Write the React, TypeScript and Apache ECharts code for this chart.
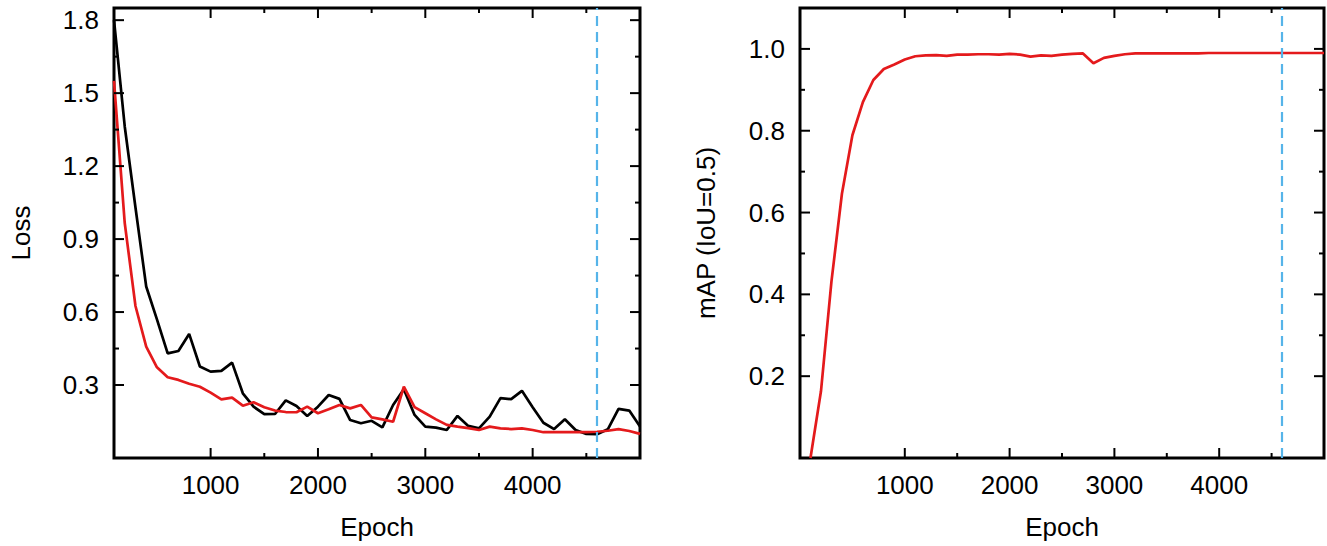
import React, { useEffect, useRef } from "react";
import * as echarts from "echarts";

const epochs = [
  100, 200, 300, 400, 500, 600, 700, 800, 900, 1000,
  1100, 1200, 1300, 1400, 1500, 1600, 1700, 1800, 1900, 2000,
  2100, 2200, 2300, 2400, 2500, 2600, 2700, 2800, 2900, 3000,
  3100, 3200, 3300, 3400, 3500, 3600, 3700, 3800, 3900, 4000,
  4100, 4200, 4300, 4400, 4500, 4600, 4700, 4800, 4900, 5000,
];

const trainLoss = [
  1.8, 1.363, 1.03, 0.705, 0.57, 0.43, 0.44, 0.51, 0.376, 0.355,
  0.358, 0.392, 0.266, 0.211, 0.18, 0.181, 0.237, 0.214, 0.173, 0.211,
  0.259, 0.243, 0.156, 0.143, 0.153, 0.126, 0.218, 0.283, 0.177, 0.129,
  0.125, 0.115, 0.173, 0.132, 0.122, 0.17, 0.246, 0.242, 0.276, 0.209,
  0.145, 0.119, 0.159, 0.115, 0.099, 0.098, 0.118, 0.202, 0.195, 0.129,
];

const valLoss = [
  1.55, 0.966, 0.625, 0.458, 0.373, 0.332, 0.321, 0.305, 0.293, 0.269,
  0.241, 0.248, 0.215, 0.229, 0.209, 0.195, 0.189, 0.188, 0.211, 0.184,
  0.2, 0.218, 0.204, 0.218, 0.167, 0.159, 0.149, 0.293, 0.209, 0.184,
  0.159, 0.136, 0.129, 0.123, 0.115, 0.129, 0.122, 0.119, 0.122, 0.115,
  0.106, 0.106, 0.106, 0.106, 0.106, 0.108, 0.112, 0.119, 0.111, 0.099,
];

const mapValues = [
  0.0, 0.163, 0.431, 0.646, 0.789, 0.87, 0.924, 0.951, 0.962, 0.974,
  0.982, 0.984, 0.985, 0.983, 0.986, 0.986, 0.987, 0.987, 0.986, 0.988,
  0.986, 0.981, 0.984, 0.983, 0.986, 0.988, 0.989, 0.965, 0.978, 0.983,
  0.987, 0.989, 0.989, 0.989, 0.989, 0.989, 0.989, 0.989, 0.99, 0.99,
  0.99, 0.99, 0.99, 0.99, 0.99, 0.99, 0.99, 0.99, 0.99, 0.99,
];

const epochTicks = [1000, 2000, 3000, 4000];
const epochMinorTicks = [1500, 2500, 3500, 4500];
const lossTicks = [0.3, 0.6, 0.9, 1.2, 1.5, 1.8];
const lossMinorTicks = [0.45, 0.75, 1.05, 1.35, 1.65];
const mapTicks = [0.2, 0.4, 0.6, 0.8, 1.0];
const mapMinorTicks = [0.3, 0.5, 0.7, 0.9];
const bestEpoch = 4600;

const FONT = "Liberation Sans, Arial, Helvetica, sans-serif";
const FS = 26;
const RED = "#E41A1C";
const BLUE = "#56B4E9";

function tickData(xMajor: number[], xMinor: number[], yMajor: number[], yMinor: number[]) {
  const d: number[][] = [];
  xMajor.forEach((v) => d.push([0, v, 1]));
  xMinor.forEach((v) => d.push([0, v, 0]));
  yMajor.forEach((v) => d.push([1, v, 1]));
  yMinor.forEach((v) => d.push([1, v, 0]));
  return d;
}

function tickSeries(idx: number, xr: number[], yr: number[], data: number[][]) {
  return {
    type: "custom",
    xAxisIndex: idx,
    yAxisIndex: idx,
    silent: true,
    clip: false,
    z: 10,
    data,
    renderItem: (_p: any, api: any) => {
      const kind = api.value(0);
      const v = api.value(1);
      const len = api.value(2) ? 10 : 5;
      const st = { stroke: "#000", lineWidth: 2 };
      if (kind === 0) {
        const b = api.coord([v, yr[0]]);
        const t = api.coord([v, yr[1]]);
        return {
          type: "group",
          children: [
            { type: "line", shape: { x1: b[0], y1: b[1], x2: b[0], y2: b[1] - len }, style: st },
            { type: "line", shape: { x1: t[0], y1: t[1], x2: t[0], y2: t[1] + len }, style: st },
          ],
        };
      }
      const l = api.coord([xr[0], v]);
      const r = api.coord([xr[1], v]);
      return {
        type: "group",
        children: [
          { type: "line", shape: { x1: l[0], y1: l[1], x2: l[0] + len, y2: l[1] }, style: st },
          { type: "line", shape: { x1: r[0], y1: r[1], x2: r[0] - len, y2: r[1] }, style: st },
        ],
      };
    },
  };
}

function xAxisOpt(idx: number, min: number, max: number) {
  return {
    type: "value",
    gridIndex: idx,
    min,
    max,
    name: "Epoch",
    nameLocation: "middle",
    nameGap: 56,
    nameTextStyle: { fontFamily: FONT, fontSize: FS, color: "#000" },
    axisLine: { show: false, onZero: false },
    axisTick: { show: false },
    splitLine: { show: false },
    axisLabel: {
      customValues: epochTicks,
      formatter: (v: number) => String(v),
      fontFamily: FONT,
      fontSize: FS,
      color: "#000",
      margin: 14,
    },
  };
}

function yAxisOpt(idx: number, min: number, max: number, name: string, ticks: number[], gap: number) {
  return {
    type: "value",
    gridIndex: idx,
    min,
    max,
    name,
    nameLocation: "middle",
    nameGap: gap,
    nameTextStyle: { fontFamily: FONT, fontSize: FS, color: "#000" },
    axisLine: { show: false, onZero: false },
    axisTick: { show: false },
    splitLine: { show: false },
    axisLabel: {
      customValues: ticks,
      formatter: (v: number) => v.toFixed(1),
      fontFamily: FONT,
      fontSize: FS,
      color: "#000",
      margin: 15,
    },
  };
}

const dashed = {
  silent: true,
  symbol: ["none", "none"],
  label: { show: false },
  emphasis: { disabled: true },
  lineStyle: { color: BLUE, type: [10, 6], width: 2.2 },
  data: [{ xAxis: bestEpoch }],
};

export default function App() {
  const ref = useRef<HTMLDivElement>(null);
  useEffect(() => {
    if (!ref.current) return;
    const chart = echarts.init(ref.current, null, { renderer: "svg" });
    const lossX = [100, 5000];
    const lossY = [0, 1.85];
    const mapX = [0, 5000];
    const mapY = [0, 1.1];
    chart.setOption({
      animation: false,
      backgroundColor: "#fff",
      textStyle: { fontFamily: FONT },
      grid: [
        { left: 114, top: 8, width: 526, height: 450, show: true, borderColor: "#000", borderWidth: 3, backgroundColor: "transparent", containLabel: false },
        { left: 800, top: 8, width: 524, height: 450, show: true, borderColor: "#000", borderWidth: 3, backgroundColor: "transparent", containLabel: false },
      ],
      xAxis: [xAxisOpt(0, lossX[0], lossX[1]), xAxisOpt(1, mapX[0], mapX[1])],
      yAxis: [
        yAxisOpt(0, lossY[0], lossY[1], "Loss", lossTicks, 80),
        yAxisOpt(1, mapY[0], mapY[1], "mAP (IoU=0.5)", mapTicks, 81),
      ],
      series: [
        {
          type: "line",
          name: "train",
          xAxisIndex: 0,
          yAxisIndex: 0,
          data: epochs.map((e, i) => [e, trainLoss[i]]),
          showSymbol: false,
          lineStyle: { color: "#000", width: 2.7 },
          itemStyle: { color: "#000" },
          markLine: dashed,
          z: 3,
        },
        {
          type: "line",
          name: "val",
          xAxisIndex: 0,
          yAxisIndex: 0,
          data: epochs.map((e, i) => [e, valLoss[i]]),
          showSymbol: false,
          lineStyle: { color: RED, width: 2.7 },
          itemStyle: { color: RED },
          z: 4,
        },
        {
          type: "line",
          name: "mAP",
          xAxisIndex: 1,
          yAxisIndex: 1,
          data: epochs.map((e, i) => [e, mapValues[i]]),
          showSymbol: false,
          lineStyle: { color: RED, width: 2.7 },
          itemStyle: { color: RED },
          markLine: dashed,
          z: 4,
        },
        tickSeries(0, lossX, lossY, tickData(epochTicks, epochMinorTicks, lossTicks, lossMinorTicks)),
        tickSeries(1, mapX, mapY, tickData(epochTicks, epochMinorTicks, mapTicks, mapMinorTicks)),
      ],
    });
    return () => chart.dispose();
  }, []);
  return (
    <div
      ref={ref}
      style={{ position: "fixed", left: 0, top: 0, width: 1327, height: 546, background: "#fff" }}
    />
  );
}
